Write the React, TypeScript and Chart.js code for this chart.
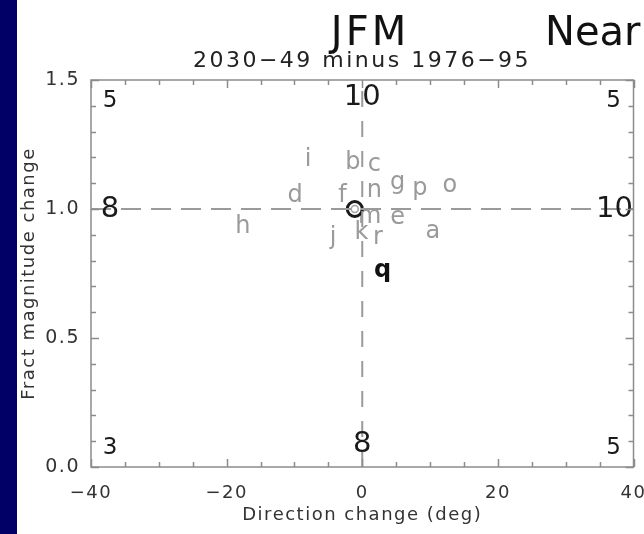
import React, { useEffect, useRef } from 'react';
import { Chart, registerables } from 'chart.js';

Chart.register(...registerables);

// ---- data ----
const modelLetters = ['a', 'b', 'c', 'd', 'e', 'f', 'g', 'h', 'i', 'j', 'k', 'm', 'n', 'o', 'p', 'r'];
const directionChange = [10.4, -1.4, 1.8, -9.9, 5.2, -2.9, 5.2, -17.6, -8.0, -4.3, -0.1, 1.1, 1.8, 12.9, 8.5, 2.3];
const magnitudeChange = [0.91, 1.18, 1.17, 1.05, 0.965, 1.05, 1.1, 0.93, 1.19, 0.89, 0.907, 0.97, 1.07, 1.09, 1.08, 0.89];

const highlightLetter = ['q'];
const highlightDirection = [3.0];
const highlightMagnitude = [0.76];

const meanDirection = [-1.1];
const meanMagnitude = [1.0];

// counts: top row (left, centre, right), middle row (left, right), bottom row (left, centre, right)
const countsTop = [5, 10, 5];
const countsMiddle = [8, 10];
const countsBottom = [3, 8, 5];

const xTickValues = [-40, -20, 0, 20, 40];
const yTickValues = [0.0, 0.5, 1.0, 1.5];
const xRange = [-40, 40];
const yRange = [0, 1.5];
const refDirection = 0;
const refMagnitude = 1.0;

const titleMain = 'JFM';
const titleRight = 'Near';
const subtitle = '2030\u221249 minus 1976\u221295';
const xTitle = 'Direction change (deg)';
const yTitle = 'Fract magnitude change';

const FONT = "'DejaVu Sans', sans-serif";

const overlayPlugin = {
  id: 'overlay',
  beforeDraw(chart: any) {
    const ctx = chart.ctx;
    ctx.save();
    ctx.fillStyle = '#ffffff';
    ctx.fillRect(0, 0, chart.width, chart.height);
    ctx.restore();
    ctx.letterSpacing = '1.5px';
  },
  beforeDatasetsDraw(chart: any) {
    const ctx = chart.ctx;
    const xs = chart.scales.x;
    const ys = chart.scales.y;
    ctx.save();
    ctx.letterSpacing = '0px';
    ctx.textAlign = 'center';
    ctx.textBaseline = 'middle';
    ctx.font = `24px ${FONT}`;
    ctx.fillStyle = '#9a9a9a';
    modelLetters.forEach((l, i) => {
      ctx.fillText(l, xs.getPixelForValue(directionChange[i]), ys.getPixelForValue(magnitudeChange[i]));
    });
    ctx.font = `bold 24px ${FONT}`;
    ctx.fillStyle = '#111111';
    highlightLetter.forEach((l, i) => {
      ctx.fillText(l, xs.getPixelForValue(highlightDirection[i]), ys.getPixelForValue(highlightMagnitude[i]));
    });
    ctx.restore();
  },
  afterDatasetsDraw(chart: any) {
    const ctx = chart.ctx;
    const { left, right, top, bottom } = chart.chartArea;
    const xs = chart.scales.x;
    const ys = chart.scales.y;
    const cx = xs.getPixelForValue(refDirection);
    const cy = ys.getPixelForValue(refMagnitude);
    ctx.save();
    ctx.textAlign = 'center';
    ctx.textBaseline = 'middle';
    ctx.fillStyle = '#1a1a1a';
    ctx.letterSpacing = '0px';
    // corners
    ctx.font = `23px ${FONT}`;
    ctx.fillText(String(countsTop[0]), left + 19, top + 21);
    ctx.fillText(String(countsTop[2]), right - 20, top + 21);
    ctx.fillText(String(countsBottom[0]), left + 19, bottom - 19);
    ctx.fillText(String(countsBottom[2]), right - 20, bottom - 19);
    // edges
    ctx.font = `29px ${FONT}`;
    ctx.fillText(String(countsTop[1]), cx, top + 17);
    ctx.fillText(String(countsBottom[1]), cx, bottom - 23);
    ctx.fillText(String(countsMiddle[0]), left + 19, cy);
    ctx.fillText(String(countsMiddle[1]), right - 19, cy);
    ctx.restore();
  },
  afterDraw(chart: any) {
    const ctx = chart.ctx;
    const { left, right, top, bottom } = chart.chartArea;
    const xs = chart.scales.x;
    const ys = chart.scales.y;
    ctx.save();
    ctx.strokeStyle = '#8c8c8c';
    ctx.lineWidth = 1.5;
    ctx.strokeRect(left, top, right - left, bottom - top);
    ctx.beginPath();
    for (let v = xRange[0]; v <= xRange[1]; v += 5) {
      const px = Math.round(xs.getPixelForValue(v)) + 0.5;
      const len = v % 20 === 0 ? 8 : 5;
      ctx.moveTo(px, bottom);
      ctx.lineTo(px, bottom - len);
      ctx.moveTo(px, top);
      ctx.lineTo(px, top + len);
    }
    for (let i = 0; i <= 15; i++) {
      const py = Math.round(ys.getPixelForValue(i / 10)) + 0.5;
      const len = i % 5 === 0 ? 8 : 5;
      ctx.moveTo(left, py);
      ctx.lineTo(left + len, py);
      ctx.moveTo(right, py);
      ctx.lineTo(right - len, py);
    }
    ctx.stroke();

    // titles
    ctx.fillStyle = '#111111';
    ctx.textBaseline = 'alphabetic';
    ctx.font = `40px ${FONT}`;
    ctx.letterSpacing = '3px';
    ctx.textAlign = 'center';
    ctx.fillText(titleMain, 370, 45);
    ctx.textAlign = 'left';
    ctx.letterSpacing = '0px';
    ctx.fillText(titleRight, 545, 45);
    ctx.font = `22px ${FONT}`;
    ctx.letterSpacing = '2.5px';
    ctx.textAlign = 'center';
    ctx.fillStyle = '#222222';
    ctx.fillText(subtitle, 362, 67);
    ctx.restore();
  },
};

export default function App() {
  const canvasRef = useRef<HTMLCanvasElement | null>(null);

  useEffect(() => {
    const canvas = canvasRef.current;
    if (!canvas) return;
    const chart = new Chart(canvas, {
      type: 'scatter',
      data: {
        datasets: [
          {
            type: 'line',
            data: [
              { x: xRange[0], y: refMagnitude },
              { x: xRange[1], y: refMagnitude },
            ],
            borderColor: '#9a9a9a',
            borderWidth: 2,
            borderDash: [20, 10],
            pointRadius: 0,
            fill: false,
          },
          {
            type: 'line',
            data: [
              { x: refDirection, y: yRange[0] },
              { x: refDirection, y: yRange[1] },
            ],
            borderColor: '#9a9a9a',
            borderWidth: 2,
            borderDash: [16, 14],
            pointRadius: 0,
            fill: false,
          },
          {
            data: meanDirection.map((x, i) => ({ x, y: meanMagnitude[i] })),
            pointRadius: 7.5,
            borderWidth: 3,
            borderColor: '#1a1a1a',
            backgroundColor: 'rgba(255,255,255,0.6)',
          },
          {
            data: meanDirection.map((x, i) => ({ x, y: meanMagnitude[i] })),
            pointRadius: 3.5,
            borderWidth: 1.5,
            borderColor: '#1a1a1a',
            backgroundColor: 'rgba(255,255,255,0)',
          },
        ],
      },
      options: {
        responsive: false,
        animation: false,
        devicePixelRatio: 1,
        layout: { padding: { left: 0, right: 10, top: 80, bottom: 0 } },
        plugins: {
          legend: { display: false },
          tooltip: { enabled: false },
          title: { display: false },
        },
        scales: {
          x: {
            type: 'linear',
            min: xRange[0],
            max: xRange[1],
            afterBuildTicks: (s: any) => {
              s.ticks = xTickValues.map((v) => ({ value: v }));
            },
            afterFit: (s: any) => {
              s.height = 67;
              s.paddingLeft = 0;
              s.paddingRight = 0;
            },
            grid: { display: false },
            border: { display: false },
            ticks: {
              padding: 8,
              color: '#333333',
              font: { family: FONT, size: 18 },
              maxRotation: 0,
              autoSkip: false,
              callback: (v: any) => (v < 0 ? '\u2212' + Math.abs(v) : String(v)),
            },
            title: {
              display: true,
              text: xTitle,
              color: '#333333',
              font: { family: FONT, size: 18 },
              padding: { top: 0, bottom: 8 },
            },
          },
          y: {
            type: 'linear',
            min: yRange[0],
            max: yRange[1],
            afterBuildTicks: (s: any) => {
              s.ticks = yTickValues.map((v) => ({ value: v }));
            },
            afterFit: (s: any) => {
              s.width = 91;
              s.paddingTop = 0;
              s.paddingBottom = 0;
            },
            grid: { display: false },
            border: { display: false },
            ticks: {
              padding: 3,
              color: '#333333',
              font: { family: FONT, size: 19 },
              autoSkip: false,
              callback: (v: any) => Number(v).toFixed(1),
            },
            title: {
              display: true,
              text: yTitle,
              color: '#333333',
              font: { family: FONT, size: 18 },
              padding: { top: 19, bottom: 0 },
            },
          },
        },
      },
      plugins: [overlayPlugin],
    } as any);
    return () => chart.destroy();
  }, []);

  return (
    <div
      style={{
        position: 'fixed',
        left: 0,
        top: 0,
        width: 644,
        height: 534,
        background: '#ffffff',
        overflow: 'hidden',
      }}
    >
      <canvas
        ref={canvasRef}
        width={644}
        height={534}
        style={{ position: 'absolute', left: 0, top: 0, width: 644, height: 534 }}
      />
      <div
        style={{
          position: 'absolute',
          left: 0,
          top: 0,
          width: 17,
          height: 534,
          background: '#000066',
        }}
      />
    </div>
  );
}
